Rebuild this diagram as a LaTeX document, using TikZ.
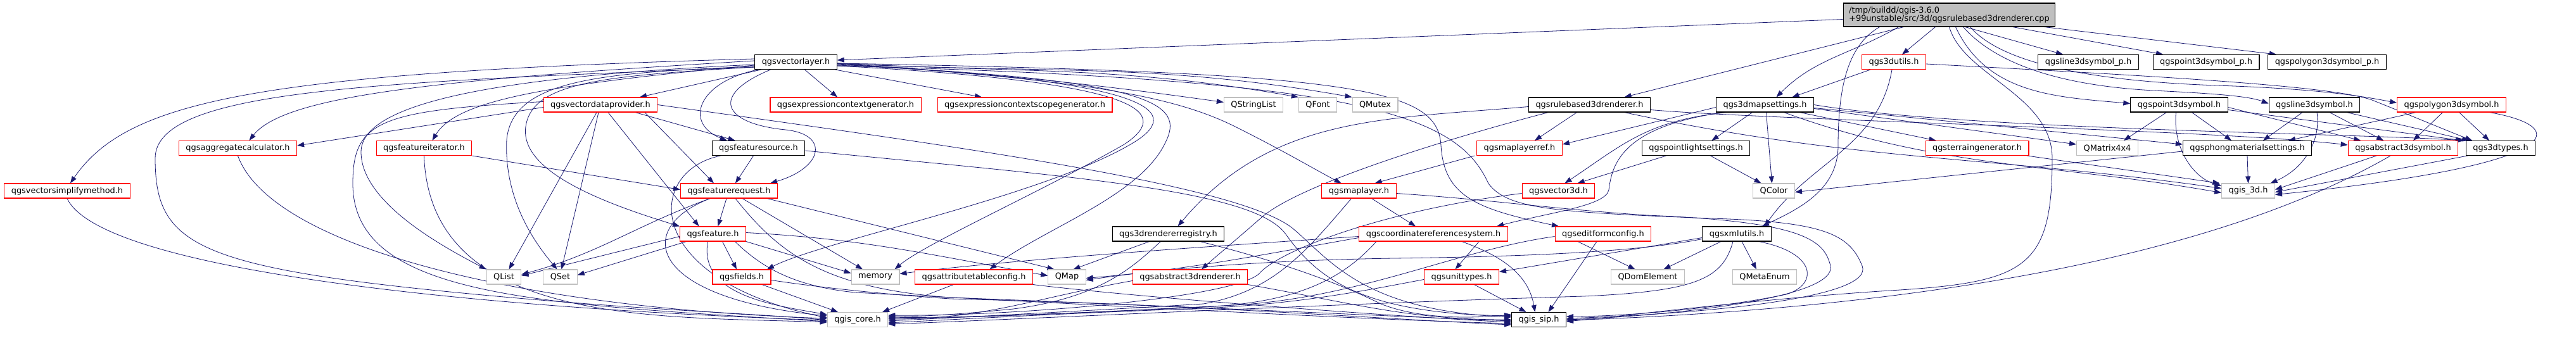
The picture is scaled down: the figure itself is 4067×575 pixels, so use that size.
\documentclass[tikz,border=0pt]{standalone}
\usepackage{fontspec}
\setmainfont{DejaVu Sans}
\usetikzlibrary{arrows.meta}

\definecolor{edgeblue}{HTML}{191970}
\definecolor{sysgray}{HTML}{BFBFBF}
\pgfdeclarelayer{edgelayer}
\pgfsetlayers{edgelayer,main}

\begin{document}
\begin{tikzpicture}[
  x=1pt, y=1pt,
  font=\fontsize{12.9}{13.6}\selectfont,
  hdr/.style={draw=black, fill=white, line width=1.1pt, inner xsep=11pt, inner ysep=2pt, minimum height=23pt},
  redhdr/.style={hdr, draw=red},
  sys/.style={hdr, draw=sysgray},
  rootbox/.style={hdr, fill=sysgray, align=left, inner xsep=9pt, minimum height=37pt},
  inc/.style={color=edgeblue, line width=0.8pt, -{Triangle[length=11pt,width=8pt]}}]
\useasboundingbox (0,0) rectangle (4067,-575);

% level 0 and 1
\node[rootbox] (root) at (3077.5,-23.5) {/tmp/buildd/qgis-3.6.0\\+99unstable/src/3d/qgsrulebased3drenderer.cpp};
\node[hdr] (vl) at (1256.5,-98) {qgsvectorlayer.h};
\node[redhdr] (utils) at (2990,-98) {qgs3dutils.h};
\node[hdr] (l3p) at (3297,-98) {qgsline3dsymbol\_p.h};
\node[hdr] (p3p) at (3483,-98) {qgspoint3dsymbol\_p.h};
\node[hdr] (pg3p) at (3674,-98) {qgspolygon3dsymbol\_p.h};

% level 2
\node[redhdr] (vdp) at (948,-165.5) {qgsvectordataprovider.h};
\node[redhdr] (ecg) at (1335,-165.5) {qgsexpressioncontextgenerator.h};
\node[redhdr] (ecsg) at (1618,-165.5) {qgsexpressioncontextscopegenerator.h};
\node[sys] (qsl) at (1979,-165.5) {QStringList};
\node[sys] (qfont) at (2080.5,-165.5) {QFont};
\node[sys] (qmutex) at (2171,-165.5) {QMutex};
\node[hdr] (rbr) at (2509.5,-165.5) {qgsrulebased3drenderer.h};
\node[hdr] (ms) at (2786.5,-165.5) {qgs3dmapsettings.h};
\node[hdr] (p3) at (3440.5,-165.5) {qgspoint3dsymbol.h};
\node[hdr] (l3) at (3654,-165.5) {qgsline3dsymbol.h};
\node[redhdr] (pg3) at (3870.5,-165.5) {qgspolygon3dsymbol.h};

% level 3
\node[redhdr] (agg) at (375.5,-234) {qgsaggregatecalculator.h};
\node[redhdr] (fit) at (669.5,-234) {qgsfeatureiterator.h};
\node[hdr] (fsrc) at (1197.5,-234) {qgsfeaturesource.h};
\node[redhdr] (mlr) at (2399,-234) {qgsmaplayerref.h};
\node[hdr] (pls) at (2677.5,-234) {qgspointlightsettings.h};
\node[redhdr] (terr) at (3121.5,-234) {qgsterraingenerator.h};
\node[sys] (qmat) at (3327,-234) {QMatrix4x4};
\node[hdr] (phong) at (3548,-234) {qgsphongmaterialsettings.h};
\node[redhdr] (abs3s) at (3794,-234) {qgsabstract3dsymbol.h};
\node[hdr] (types) at (3948,-234) {qgs3dtypes.h};

% level 4
\node[redhdr] (vsm) at (106,-301.5) {qgsvectorsimplifymethod.h};
\node[redhdr] (freq) at (1151,-301.5) {qgsfeaturerequest.h};
\node[redhdr] (ml) at (2145.5,-301.5) {qgsmaplayer.h};
\node[redhdr] (v3d) at (2460.5,-301.5) {qgsvector3d.h};
\node[sys] (qcolor) at (2800.5,-301.5) {QColor};
\node[sys] (q3d) at (3549.5,-301.5) {qgis\_3d.h};

% level 5
\node[redhdr] (feat) at (1125.5,-369.5) {qgsfeature.h};
\node[hdr] (rreg) at (1844.5,-369.5) {qgs3drendererregistry.h};
\node[redhdr] (crs) at (2263,-369.5) {qgscoordinatereferencesystem.h};
\node[redhdr] (efc) at (2531,-369.5) {qgseditformconfig.h};
\node[hdr] (xml) at (2742,-369.5) {qgsxmlutils.h};

% level 6
\node[sys] (qlist) at (795.5,-437.5) {QList};
\node[sys] (qset) at (884.5,-437.5) {QSet};
\node[redhdr] (fields) at (1171,-437.5) {qgsfields.h};
\node[sys] (memory) at (1382,-437.5) {memory};
\node[redhdr] (atc) at (1537.5,-437.5) {qgsattributetableconfig.h};
\node[sys] (qmap) at (1684.5,-437.5) {QMap};
\node[redhdr] (abs3r) at (1879,-437.5) {qgsabstract3drenderer.h};
\node[redhdr] (unit) at (2307.5,-437.5) {qgsunittypes.h};
\node[sys] (qdom) at (2601.5,-437.5) {QDomElement};
\node[sys] (qmeta) at (2786,-437.5) {QMetaEnum};

% level 7
\node[sys] (core) at (1354,-505) {qgis\_core.h};
\node[hdr] (sip) at (2429.5,-505) {qgis\_sip.h};

\begin{pgfonlayer}{edgelayer}
% includes of the source file
\draw[inc] ([yshift=-7pt]root.west) -- ([yshift=3pt]vl.east);
\draw[inc] ([xshift=-72pt]root.south) -- ([xshift=55pt]rbr.north);
\draw[inc] ([xshift=-80pt]root.south) to[out=-150,in=45] ([xshift=18pt]ms.north);
\draw[inc] ([xshift=-22pt]root.south) -- ([xshift=13pt]utils.north);
\draw[inc] ([xshift=-110pt]root.south) .. controls (2920,-70) and (2902,-130) .. (2902,-230) .. controls (2902,-300) and (2840,-330) .. ([xshift=40pt]xml.north);
\draw[inc] ([xshift=25pt]root.south) -- ([xshift=-40pt]l3p.north);
\draw[inc] ([xshift=100pt]root.south) -- ([xshift=-68pt]p3p.north);
\draw[inc] ([xshift=150pt]root.south) -- ([xshift=-80pt]pg3p.north);
\draw[inc] ([xshift=10pt]root.south) to[out=-65,in=175] ([yshift=2pt]p3.west);
\draw[inc] ([xshift=22pt]root.south) .. controls (3150,-100) and (3250,-135) .. (3400,-143) .. controls (3500,-148) and (3550,-152) .. ([yshift=2pt]l3.west);
\draw[inc] ([xshift=33pt]root.south) .. controls (3160,-100) and (3300,-128) .. (3500,-135) .. controls (3650,-140) and (3720,-150) .. ([yshift=3pt]pg3.west);
\draw[inc] (root.south) .. controls (3100,-120) and (3240,-150) .. (3240,-250) .. controls (3240,-420) and (3200,-445) .. (3000,-458) .. controls (2800,-470) and (2600,-495) .. ([yshift=-3pt]sip.east);

% qgs3dutils.h
\draw[inc] ([xshift=-37pt]utils.south) -- ([xshift=43pt]ms.north);
\draw[inc] ([xshift=-3pt]utils.south) to[out=-100,in=55] ([xshift=44pt]xml.north);
\draw[inc] ([yshift=-3pt]utils.east) .. controls (3400,-120) and (3680,-135) .. (3745,-158) .. controls (3800,-180) and (3860,-205) .. ([xshift=-45pt]types.north);

% qgsvectorlayer.h
\draw[inc] ([xshift=-55pt]vl.south) -- ([xshift=62pt]vdp.north);
\draw[inc] ([xshift=14pt]vl.south) -- ([xshift=-13pt]ecg.north);
\draw[inc] ([xshift=-3pt]vl.south east) -- ([xshift=-68pt]ecsg.north);
\draw[inc] ([yshift=-2pt]vl.east) to[out=-4,in=172] ([yshift=4pt]qsl.west);
\draw[inc] ([yshift=-2pt]vl.east) to[out=-3,in=170] (qfont.north west);
\draw[inc] ([yshift=-2pt]vl.east) to[out=-3,in=170] (qmutex.north west);
\draw[inc] ([yshift=2pt]vl.west) .. controls (700,-125) and (450,-150) .. ([xshift=18pt]agg.north);
\draw[inc] ([yshift=5pt]vl.west) .. controls (400,-115) and (200,-160) .. ([xshift=5pt]vsm.north);
\draw[inc] ([yshift=-5pt]vl.west) .. controls (850,-135) and (720,-160) .. ([xshift=13pt]fit.north);
\draw[inc] ([xshift=-60pt]vl.south) .. controls (1100,-130) and (1080,-195) .. ([xshift=-50pt]fsrc.north);
\draw[inc] ([xshift=-40pt]vl.south) .. controls (1120,-150) and (1140,-195) .. (1240,-205) .. controls (1310,-212) and (1300,-265) .. ([xshift=65pt]freq.north);
\draw[inc] ([yshift=-8pt]vl.west) .. controls (950,-120) and (840,-130) .. (830,-200) .. controls (820,-270) and (950,-320) .. (feat.north west);
\draw[inc] ([yshift=-7pt]vl.west) .. controls (950,-115) and (810,-125) .. (800,-220) .. controls (795,-320) and (850,-390) .. ([xshift=-5pt]qset.north);
\draw[inc] ([yshift=-4pt]vl.west) .. controls (800,-120) and (570,-160) .. (570,-240) .. controls (570,-320) and (700,-390) .. (qlist.north west);
\draw[inc] ([yshift=-4pt]vl.east) .. controls (1790,-125) and (1880,-170) .. (1790,-225) .. controls (1650,-310) and (1300,-380) .. ([xshift=40pt]fields.north);
\draw[inc] ([yshift=-6pt]vl.east) .. controls (1780,-128) and (1860,-172) .. (1775,-228) .. controls (1650,-300) and (1460,-385) .. ([xshift=-8pt]memory.north east);
\draw[inc] ([yshift=-5pt]vl.east) .. controls (1830,-125) and (1870,-165) .. (1840,-225) .. controls (1800,-310) and (1650,-360) .. ([xshift=25pt]atc.north);
\draw[inc] ([yshift=-3pt]vl.east) .. controls (1700,-125) and (1850,-150) .. (1950,-200) .. controls (2030,-240) and (2080,-270) .. ([xshift=-28pt]ml.north);
\draw[inc] ([yshift=-2pt]vl.east) .. controls (2150,-115) and (2270,-140) .. (2275,-230) .. controls (2280,-310) and (2330,-330) .. ([xshift=-70pt]efc.north);
\draw[inc] ([yshift=-8pt]vl.west) .. controls (600,-130) and (245,-140) .. (245,-250) .. controls (245,-380) and (300,-420) .. (700,-460) .. controls (1000,-490) and (1200,-495) .. ([yshift=-1pt]core.west);
\draw[inc] ([yshift=-6pt]vl.east) .. controls (2150,-125) and (2300,-180) .. (2350,-290) .. controls (2380,-330) and (2450,-335) .. (2700,-345) .. controls (2880,-350) and (2920,-370) .. (2940,-420) .. controls (2960,-470) and (2700,-495) .. ([yshift=2pt]sip.east);

% qgsvectordataprovider.h
\draw[inc] ([yshift=-4pt]vdp.west) -- ([yshift=4pt]agg.east);
\draw[inc] ([yshift=5pt]vdp.west) .. controls (600,-175) and (557,-190) .. (557,-290) .. controls (557,-470) and (850,-480) .. ([yshift=-3pt]core.west);
\draw[inc] ([xshift=-6pt]vdp.south) -- ([xshift=8pt]qlist.north);
\draw[inc] ([xshift=-3pt]vdp.south) -- ([xshift=2pt]qset.north);
\draw[inc] ([xshift=55pt]vdp.south) -- ([xshift=-37pt]fsrc.north);
\draw[inc] ([xshift=70pt]vdp.south) -- ([xshift=-24pt]freq.north);
\draw[inc] ([xshift=12pt]vdp.south) -- ([xshift=-22pt]feat.north);
\draw[inc] (vdp.east) .. controls (1500,-230) and (1950,-290) .. (2040,-360) .. controls (2100,-410) and (2150,-490) .. ([yshift=4pt]sip.west);

% qgsaggregatecalculator.h, qgsvectorsimplifymethod.h, qgsfeatureiterator.h
\draw[inc] (agg.south) .. controls +(-70:150pt) and +(178:500pt) .. ([yshift=2pt]core.west);
\draw[inc] (vsm.south) .. controls +(-65:120pt) and +(178:600pt) .. ([yshift=-1pt]core.west);
\draw[inc] (fit.south east) -- ([yshift=2pt]freq.west);
\draw[inc] (fit.south) to[out=-88,in=178] ([yshift=-4pt]core.west);

% qgsfeaturesource.h
\draw[inc] ([xshift=-8pt]fsrc.south) -- ([xshift=10pt]freq.north);
\draw[inc] ([xshift=-60pt]fsrc.south) .. controls (1020,-270) and (1010,-440) .. ([yshift=3pt]core.west);
\draw[inc] ([yshift=-4pt]fsrc.east) .. controls (1700,-280) and (1980,-300) .. (2030,-370) .. controls (2080,-440) and (2150,-495) .. ([yshift=6pt]sip.west);

% qgsfeaturerequest.h
\draw[inc] ([xshift=-4pt]freq.south) -- ([xshift=8pt]feat.north);
\draw[inc] ([xshift=-30pt]freq.south) to[out=-160,in=15] ([yshift=4pt]qlist.east);
\draw[inc] ([xshift=21pt]freq.south) -- ([xshift=-20pt]memory.north);
\draw[inc] ([xshift=-30pt]freq.south) .. controls (1000,-360) and (1020,-470) .. ([yshift=6pt]core.west);
\draw[inc] ([xshift=10pt]freq.south) .. controls (1230,-400) and (1300,-455) .. (1500,-470) .. controls (1900,-485) and (2200,-500) .. ([yshift=-2pt]sip.west);
\draw[inc] ([xshift=60pt]freq.south) -- ([xshift=-20pt]qmap.north);

% qgsfeature.h
\draw[inc] ([xshift=15pt]feat.south) -- ([xshift=-8pt]fields.north);
\draw[inc] (feat.south east) -- ([yshift=6pt]memory.west);
\draw[inc] ([yshift=-4pt]feat.west) -- ([yshift=2pt]qlist.east);
\draw[inc] ([xshift=-42pt]feat.south) -- ([yshift=3pt]qset.east);
\draw[inc] ([xshift=-8pt]feat.south) to[out=-100,in=170] ([yshift=8pt]core.west);
\draw[inc] ([yshift=2pt]feat.east) to[out=-3,in=170] ([yshift=2pt]qmap.west);
\draw[inc] ([xshift=35pt]feat.south) .. controls (1200,-420) and (1250,-452) .. (1350,-462) .. controls (1700,-480) and (2150,-505) .. ([yshift=-6pt]sip.west);

% qgsfields.h, qgsattributetableconfig.h
\draw[inc] ([xshift=32pt]fields.south) -- ([xshift=-31pt]core.north);
\draw[inc] ([yshift=-5pt]fields.east) .. controls (1300,-455) and (1400,-465) .. (1500,-472) .. controls (1900,-482) and (2200,-505) .. ([yshift=-8pt]sip.west);
\draw[inc] ([xshift=-32pt]atc.south) -- ([xshift=39pt]core.north);
\draw[inc] (atc.south east) .. controls (1800,-470) and (2200,-500) .. ([yshift=-4pt]sip.west);

% qgsmaplayer.h, qgsmaplayerref.h
\draw[inc] ([xshift=20pt]ml.south) -- ([xshift=-28pt]crs.north);
\draw[inc] ([xshift=-12pt]ml.south) .. controls (2060,-400) and (2010,-460) .. (1900,-480) .. controls (1700,-492) and (1500,-502) .. ([yshift=-2pt]core.east);
\draw[inc] ([yshift=-4pt]ml.east) .. controls (2350,-315) and (2450,-330) .. (2600,-340) .. controls (2850,-350) and (2880,-380) .. (2890,-420) .. controls (2900,-470) and (2650,-498) .. (sip.east);
\draw[inc] ([xshift=-3pt]mlr.south west) -- ([xshift=25pt]ml.north);

% qgscoordinatereferencesystem.h, qgsunittypes.h
\draw[inc] ([xshift=72pt]crs.south) -- ([xshift=-10pt]unit.north);
\draw[inc] ([xshift=-90pt]crs.south) .. controls (2120,-440) and (2050,-478) .. (1900,-485) .. controls (1700,-495) and (1500,-503) .. ([yshift=2pt]core.east);
\draw[inc] ([xshift=45pt]crs.south) to[out=-20,in=100] ([xshift=-6pt]sip.north);
\draw[inc] ([yshift=-4pt]crs.west) .. controls (1900,-390) and (1600,-410) .. ([yshift=5pt]memory.east);
\draw[inc] ([yshift=-6pt]crs.west) to[out=190,in=5] ([yshift=-2pt]qmap.east);
\draw[inc] ([yshift=-4pt]unit.west) .. controls (2150,-460) and (2050,-480) .. (1900,-487) .. controls (1700,-494) and (1500,-505) .. ([yshift=-5pt]core.east);
\draw[inc] ([xshift=20pt]unit.south) -- ([xshift=-20pt]sip.north);

% qgseditformconfig.h, qgsxmlutils.h
\draw[inc] ([xshift=-40pt]efc.south) -- ([xshift=-20pt]qdom.north);
\draw[inc] ([xshift=-10pt]efc.south) -- ([xshift=15pt]sip.north);
\draw[inc] ([yshift=-4pt]efc.west) .. controls (2300,-395) and (2150,-470) .. (1950,-482) .. controls (1700,-495) and (1500,-503) .. ([yshift=4pt]core.east);
\draw[inc] ([xshift=-25pt]xml.south) -- ([xshift=25pt]qdom.north);
\draw[inc] ([xshift=8pt]xml.south) -- ([xshift=-13pt]qmeta.north);
\draw[inc] ([xshift=-6pt]xml.south) .. controls (2720,-440) and (2680,-460) .. (2500,-468) .. controls (2100,-480) and (1600,-505) .. ([yshift=-7pt]core.east);
\draw[inc] ([xshift=35pt]xml.south) .. controls (2870,-400) and (2870,-450) .. (2820,-465) .. controls (2700,-490) and (2550,-500) .. ([yshift=5pt]sip.east);
\draw[inc] ([yshift=-6pt]xml.west) -- ([yshift=8pt]unit.east);
\draw[inc] ([yshift=-8pt]xml.west) .. controls (2600,-395) and (2450,-405) .. (2200,-408) .. controls (1950,-412) and (1800,-430) .. ([yshift=-5pt]qmap.east);

% qgs3drendererregistry.h, qgsabstract3drenderer.h
\draw[inc] ([xshift=-30pt]rreg.south) -- ([xshift=10pt]qmap.north);
\draw[inc] ([xshift=-12pt]rreg.south) .. controls (1790,-420) and (1740,-470) .. (1600,-488) .. controls (1500,-498) and (1450,-500) .. ([yshift=5pt]core.east);
\draw[inc] ([xshift=50pt]rreg.south) .. controls (1990,-405) and (2100,-440) .. (2180,-480) .. controls (2230,-500) and (2300,-505) .. ([yshift=8pt]sip.west);
\draw[inc] ([yshift=-6pt]abs3r.west) to[out=190,in=0] ([yshift=1pt]core.east);
\draw[inc] (abs3r.south east) to[out=-10,in=180] (sip.west);

% qgsrulebased3drenderer.h
\draw[inc] ([xshift=-20pt]rbr.south) -- ([xshift=24pt]mlr.north);
\draw[inc] ([yshift=-3pt]rbr.west) to[out=185,in=50] ([xshift=15pt]rreg.north);
\draw[inc] ([xshift=-65pt]rbr.south) .. controls (2300,-215) and (2050,-290) .. (1990,-345) .. controls (1950,-380) and (1920,-405) .. ([xshift=18pt]abs3r.north);
\draw[inc] ([xshift=55pt]rbr.south) .. controls +(-12:380pt) and +(172:380pt) .. ([yshift=4pt]q3d.west);
\draw[inc] ([yshift=-8pt]rbr.east) .. controls (2800,-190) and (3500,-205) .. ([yshift=5pt]abs3s.west);

% qgs3dmapsettings.h
\draw[inc] ([yshift=-4pt]ms.west) -- ([yshift=6pt]mlr.east);
\draw[inc] ([xshift=-20pt]ms.south) -- ([xshift=25pt]pls.north);
\draw[inc] ([xshift=2pt]ms.south) -- ([xshift=-3pt]qcolor.north);
\draw[inc] ([xshift=55pt]ms.south) -- ([xshift=-65pt]terr.north);
\draw[inc] ([yshift=-6pt]ms.east) -- ([yshift=6pt]qmat.west);
\draw[inc] ([yshift=-5pt]ms.east) -- ([yshift=6pt]phong.west);
\draw[inc] (ms.east) .. controls (3100,-205) and (3700,-210) .. ([xshift=-58pt]types.north);
\draw[inc] ([xshift=30pt]ms.south) .. controls +(-20:260pt) and +(170:260pt) .. ([yshift=-3pt]q3d.west);
\draw[inc] ([xshift=-60pt]ms.south) .. controls (2600,-190) and (2560,-230) .. ([xshift=10pt]v3d.north);
\draw[inc] ([xshift=-65pt]ms.south) .. controls (2560,-200) and (2545,-260) .. (2540,-300) .. controls (2535,-325) and (2450,-335) .. ([xshift=100pt]crs.north);

% 3d settings and symbols
\draw[inc] ([xshift=-47pt]pls.south) -- ([xshift=30pt]v3d.north);
\draw[inc] ([xshift=23pt]pls.south) -- ([xshift=-20pt]qcolor.north);
\draw[inc] ([xshift=-3pt]terr.south east) -- ([xshift=-45pt]q3d.north);
\draw[inc] ([xshift=-20pt]p3.south) -- ([xshift=26pt]qmat.north);
\draw[inc] ([xshift=-5pt]p3.south) .. controls (3430,-230) and (3460,-280) .. ([yshift=8pt]q3d.west);
\draw[inc] ([xshift=20pt]p3.south) -- ([xshift=-25pt]phong.north);
\draw[inc] ([yshift=-4pt]p3.east) -- ([xshift=-67pt]abs3s.north);
\draw[inc] ([yshift=-8pt]p3.east) -- ([xshift=-60pt]types.north);
\draw[inc] ([xshift=-19pt]l3.south) -- ([xshift=25pt]phong.north);
\draw[inc] ([xshift=4pt]l3.south) .. controls (3665,-230) and (3630,-270) .. ([xshift=35pt]q3d.north);
\draw[inc] ([xshift=24pt]l3.south) -- ([xshift=-31pt]abs3s.north);
\draw[inc] ([xshift=51pt]l3.south) -- ([xshift=-50pt]types.north);
\draw[inc] ([xshift=-56pt]pg3.south) -- ([xshift=65pt]phong.north);
\draw[inc] ([xshift=-14pt]pg3.south) -- ([xshift=16pt]abs3s.north);
\draw[inc] ([xshift=12pt]pg3.south) -- ([xshift=-18pt]types.north);
\draw[inc] ([xshift=60pt]pg3.south) .. controls (4060,-200) and (4060,-260) .. ([yshift=-6pt]q3d.east);
\draw[inc] (phong.south) -- (q3d.north);
\draw[inc] ([yshift=-5pt]phong.west) -- ([yshift=-2pt]qcolor.east);
\draw[inc] ([xshift=-42pt]abs3s.south) -- ([yshift=2pt]q3d.east);
\draw[inc] ([xshift=-20pt]abs3s.south) .. controls +(-150:300pt) and +(2:600pt) .. ([yshift=-1pt]sip.east);
\draw[inc] ([xshift=3pt]types.south west) -- ([yshift=-2pt]q3d.east);
\draw[inc] ([yshift=-4pt]v3d.west) .. controls (2200,-330) and (2030,-390) .. (1990,-430) .. controls (1960,-470) and (1600,-500) .. ([yshift=7pt]core.east);
\end{pgfonlayer}
\end{tikzpicture}
\end{document}
